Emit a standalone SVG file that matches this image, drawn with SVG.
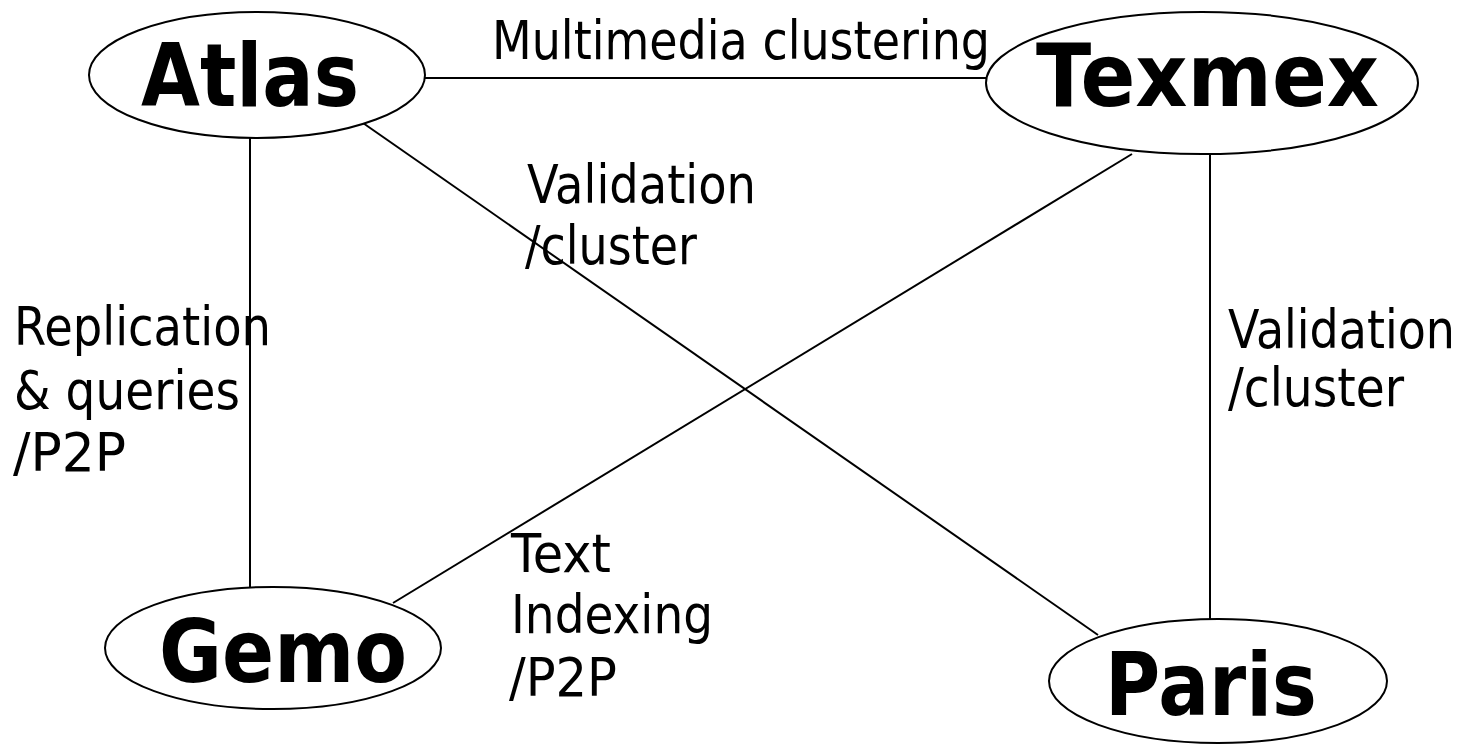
<svg xmlns="http://www.w3.org/2000/svg" width="1468" height="745" viewBox="0 0 1468 745">
<style>
.node{fill:#fff;stroke:#000;stroke-width:2}
.title{font-family:"DejaVu Sans","Liberation Sans",sans-serif;font-weight:bold;font-size:87px;fill:#000}
.lbl{font-family:"DejaVu Sans","Liberation Sans",sans-serif;font-size:53px;fill:#000}
.edge{stroke:#000;stroke-width:2;fill:none}
</style>
<rect width="1468" height="745" fill="#fff"/>
<g id="connectors">
<line class="edge" x1="425" y1="78" x2="987" y2="78"/>
<line class="edge" x1="250" y1="138" x2="250" y2="587"/>
<line class="edge" x1="363" y1="123" x2="1098" y2="635"/>
<line class="edge" x1="1132" y1="154" x2="393" y2="603"/>
<line class="edge" x1="1210" y1="154" x2="1210" y2="619"/>
</g>
<g id="labels">
<text class="lbl" x="492" y="59" textLength="498" lengthAdjust="spacingAndGlyphs">Multimedia clustering</text>
<text class="lbl" x="527" y="203" textLength="229" lengthAdjust="spacingAndGlyphs">Validation</text>
<text class="lbl" x="525" y="264" textLength="172" lengthAdjust="spacingAndGlyphs">/cluster</text>
<text class="lbl" x="1228" y="348" textLength="227" lengthAdjust="spacingAndGlyphs">Validation</text>
<text class="lbl" x="1228" y="406" textLength="176" lengthAdjust="spacingAndGlyphs">/cluster</text>
<text class="lbl" x="14" y="345" textLength="257" lengthAdjust="spacingAndGlyphs">Replication</text>
<text class="lbl" x="14" y="409" textLength="226" lengthAdjust="spacingAndGlyphs">&amp; queries</text>
<text class="lbl" x="13" y="471" textLength="113" lengthAdjust="spacingAndGlyphs">/P2P</text>
<text class="lbl" x="511" y="572" textLength="100" lengthAdjust="spacingAndGlyphs">Text</text>
<text class="lbl" x="511" y="633" textLength="202" lengthAdjust="spacingAndGlyphs">Indexing</text>
<text class="lbl" x="509" y="696" textLength="108" lengthAdjust="spacingAndGlyphs">/P2P</text>
</g>
<g id="atlas">
<ellipse class="node" cx="257" cy="75" rx="168" ry="63"/>
<text class="title" x="141" y="106" textLength="218" lengthAdjust="spacingAndGlyphs">Atlas</text>
</g>
<g id="texmex">
<ellipse class="node" cx="1202" cy="83" rx="216" ry="71"/>
<text class="title" x="1036" y="106" textLength="343" lengthAdjust="spacingAndGlyphs">Texmex</text>
</g>
<g id="gemo">
<ellipse class="node" cx="273" cy="648" rx="168" ry="61"/>
<text class="title" x="159" y="682" textLength="248" lengthAdjust="spacingAndGlyphs">Gemo</text>
</g>
<g id="paris">
<ellipse class="node" cx="1218" cy="681" rx="169" ry="62"/>
<text class="title" x="1105" y="715" textLength="212" lengthAdjust="spacingAndGlyphs">Paris</text>
</g>
</svg>
